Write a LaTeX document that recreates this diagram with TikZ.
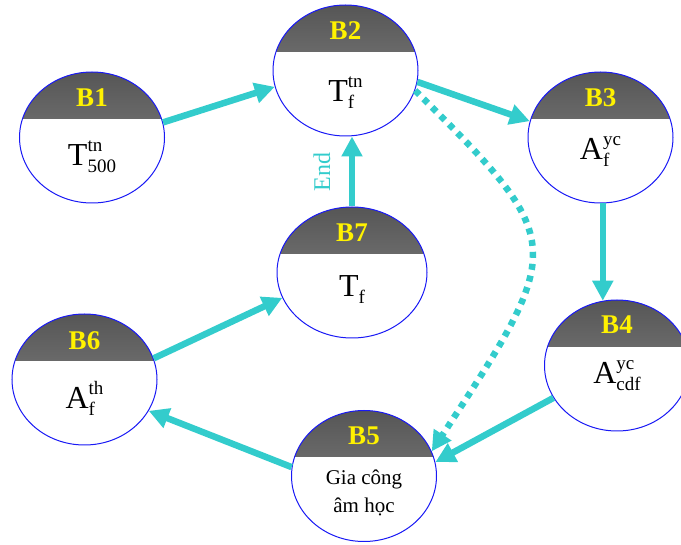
\documentclass[tikz,border=0pt]{standalone}
\usepackage{fontspec}
\setmainfont{Liberation Serif}
\usetikzlibrary{shapes.geometric,arrows.meta}
\definecolor{teal1}{RGB}{51,204,204}
\definecolor{capdark}{RGB}{86,86,86}
\definecolor{caplight}{RGB}{140,140,140}
\definecolor{rimblue}{RGB}{25,25,245}
\newcommand\stt[3]{#1{\fontsize{19}{19}\selectfont\ooalign{\raisebox{0.74em}{#2}\cr\raisebox{-0.36em}{#3}\cr}}}
\begin{document}
\begin{tikzpicture}[x=1pt,y=-1pt,
  stage/.style={ellipse, draw=rimblue, line width=1pt, minimum width=145pt,
    minimum height=131pt, inner sep=0pt, fill=white,
    path picture={\fill[top color=capdark, bottom color=caplight]
      (path picture bounding box.north west) rectangle
      ([yshift=-46.5pt]path picture bounding box.north east);}},
  blabel/.style={font=\fontsize{27}{30}\selectfont\bfseries, text=yellow, inner sep=0pt},
  btext/.style={font=\fontsize{32}{36}\selectfont, anchor=base, inner sep=0pt},
  flow/.style={draw=teal1, line width=6.5pt, -{Triangle[length=20pt,width=20pt]}},
]
\useasboundingbox (0,0) rectangle (681,545);

\node[stage] (b1) at (92,137.5) {};
\node[blabel] (b1l) at ([yshift=-26pt]b1.north) {B1};
\node[btext] (b1t) at ([yshift=-28.5pt]b1.center) {\stt{T}{tn}{500}};

\node[stage] (b2) at (345.5,70.5) {};
\node[blabel] (b2l) at ([yshift=-26pt]b2.north) {B2};
\node[btext] (b2t) at ([yshift=-31pt]b2.center) {\stt{T}{tn}{f}};

\node[stage] (b3) at (600.5,137.5) {};
\node[blabel] (b3l) at ([yshift=-26pt]b3.north) {B3};
\node[btext] (b3t) at ([yshift=-22.5pt]b3.center) {\stt{A}{yc}{f}};

\node[stage] (b4) at (617,365.5) {};
\node[blabel] (b4l) at ([yshift=-25pt]b4.north) {B4};
\node[btext] (b4t) at ([yshift=-18.5pt]b4.center) {\stt{A}{yc}{cdf}};

\node[stage] (b5) at (364,476) {};
\node[blabel] (b5l) at ([yshift=-26pt]b5.north) {B5};
\node[anchor=base, inner sep=0pt, align=center, font=\fontsize{21}{28}\selectfont]
  (b5t) at ([yshift=-37pt]b5.center) {Gia công\\âm học};

\node[stage] (b6) at (84.5,379.5) {};
\node[blabel] (b6l) at ([yshift=-27pt]b6.north) {B6};
\node[btext] (b6t) at ([yshift=-29.5pt]b6.center) {\stt{A}{th}{f}};

\node[stage, minimum width=150pt] (b7) at (352,272.5) {};
\node[blabel] (b7l) at ([yshift=-26pt]b7.north) {B7};
\node[btext] (b7t) at ([yshift=-24.5pt]b7.center) {\stt{T}{}{f}};

\node[rotate=90, text=teal1, font=\fontsize{24}{28}\selectfont, inner sep=0pt]
  (endlbl) at (322,172) {End};

\draw[flow] (b1.12) -- (b2.193);
\draw[flow] (b2.-9) -- (b3.167);
\draw[flow] (b3.272) -- (b3.272 |- b4.102);
\draw[flow] (b4.207) -- (b5.11);
\draw[flow] (b5.173) -- (b6.-26);
\draw[flow] (b6.17) -- (b7.200);
\draw[flow] (b7.north) -- (b7.north |- b2.south);
\draw[flow, dash pattern=on 6pt off 6pt] (b2.-16) .. controls (568,242) and (567,245) .. (b5.20);
\end{tikzpicture}
\end{document}
